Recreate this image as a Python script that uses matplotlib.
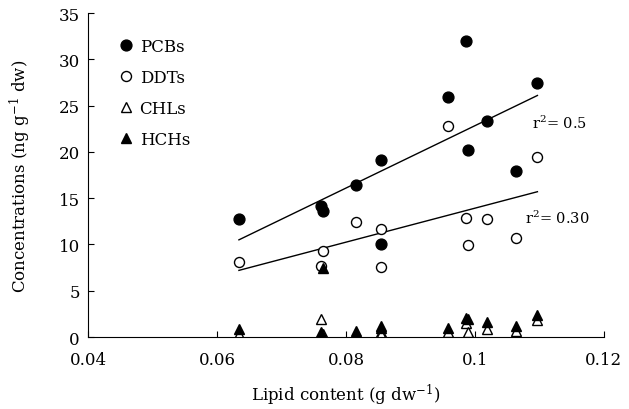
import matplotlib
matplotlib.use("Agg")
import matplotlib.pyplot as plt

# lipid content per site (g dw-1)
lipid = [0.0634, 0.0761, 0.0764, 0.0816, 0.0855, 0.0855,
         0.0958, 0.0986, 0.0989, 0.1019, 0.1064, 0.1097]

pcbs = [12.7, 14.2, 13.6, 16.4, 19.1, 10.1, 25.9, 32.0, 20.2, 23.3, 17.9, 27.5]
ddts = [8.1, 7.7, 9.3, 12.4, 11.7, 7.6, 22.8, 12.9, 9.9, 12.8, 10.7, 19.4]
chls = [0.3, 1.9, 0.3, 0.3, 0.5, 0.3, 0.5, 1.5, 0.5, 0.9, 0.6, 1.8]
hchs = [0.9, 0.5, 7.5, 0.7, 1.2, 1.0, 1.0, 2.1, 1.9, 1.6, 1.2, 2.4]

# regression lines
fit_x = [0.0634, 0.1097]
pcb_fit = [10.5, 26.1]
ddt_fit = [7.2, 15.7]

xticks = [0.04, 0.06, 0.08, 0.10, 0.12]
xtick_labels = ["0.04", "0.06", "0.08", "0.1", "0.12"]
yticks = [0, 5, 10, 15, 20, 25, 30, 35]

plt.rcParams["font.family"] = "DejaVu Serif"
plt.rcParams["mathtext.fontset"] = "dejavuserif"

fig = plt.figure(figsize=(6.29, 4.10), dpi=100)
ax = fig.add_axes([0.14, 0.1756, 0.82, 0.79])

ax.plot(fit_x, pcb_fit, color="black", lw=1.0)
ax.plot(fit_x, ddt_fit, color="black", lw=1.0)

ax.plot(lipid, pcbs, "o", color="black", ms=7.8, label="PCBs")
ax.plot(lipid, ddts, "o", mfc="white", mec="black", mew=1.0, ms=7.2, label="DDTs")
ax.plot(lipid, chls, "^", mfc="white", mec="black", mew=1.0, ms=7.5, label="CHLs")
ax.plot(lipid, hchs, "^", color="black", ms=7.5, label="HCHs")

ax.text(0.1089, 23.2, r"r$^2$= 0.5", fontsize=10.5, va="center")
ax.text(0.1078, 12.9, r"r$^2$= 0.30", fontsize=10.5, va="center")

ax.set_xlim(0.04, 0.12)
ax.set_ylim(0, 35)
ax.set_xticks(xticks)
ax.set_xticklabels(xtick_labels)
ax.set_yticks(yticks)
ax.spines["top"].set_visible(False)
ax.spines["right"].set_visible(False)
ax.tick_params(axis="both", direction="in", length=4, labelsize=12)
ax.tick_params(axis="x", pad=10)
ax.tick_params(axis="y", pad=6)

ax.set_xlabel(r"Lipid content (g dw$^{-1}$)", fontsize=12, labelpad=10)
ax.set_ylabel(r"Concentrations (ng g$^{-1}$ dw)", fontsize=12, labelpad=18)

ax.legend(loc="upper left", bbox_to_anchor=(0.045, 0.945), frameon=False,
          fontsize=12, handletextpad=0.3, labelspacing=0.85, borderaxespad=0,
          handlelength=1.0)

fig.savefig("out.png", dpi=100)
